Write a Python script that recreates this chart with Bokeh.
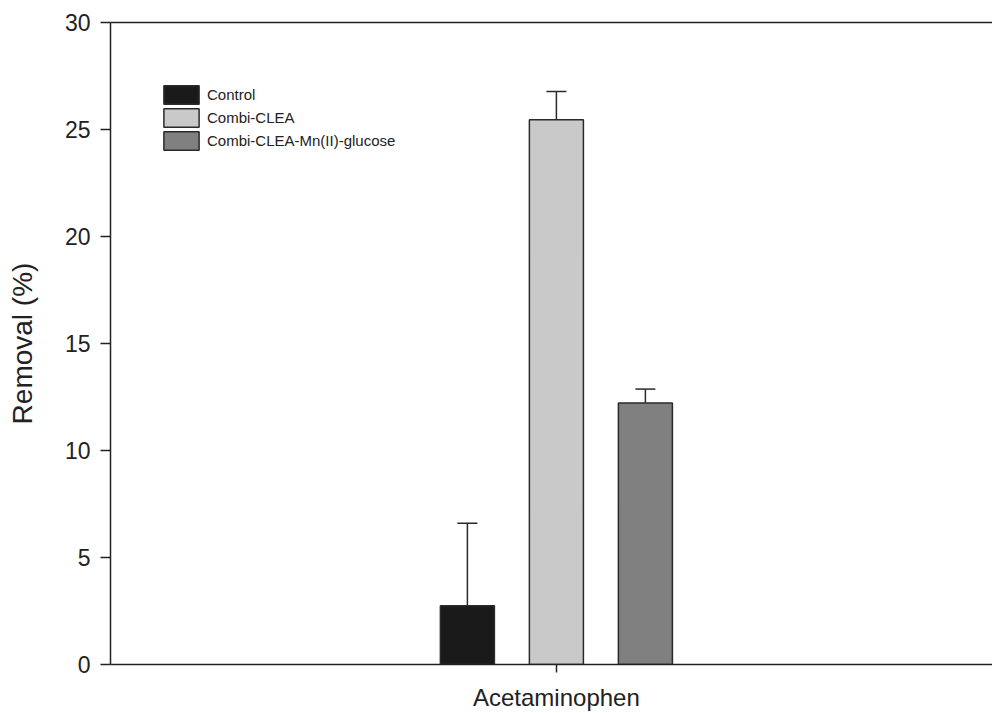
from bokeh.plotting import figure
from bokeh.models import (Range1d, FixedTicker, LinearAxis, Legend, LegendItem,
                          Whisker, TeeHead, ColumnDataSource)
from bokeh.embed import file_html
from bokeh.resources import INLINE

# ---- data ----
category = "Acetaminophen"
series = ["Control", "Combi-CLEA", "Combi-CLEA-Mn(II)-glucose"]
values = [2.75, 25.45, 12.22]
errors = [3.85, 1.33, 0.65]
colors = ["#1a1a1a", "#c9c9c9", "#808080"]
y_ticks = [0, 5, 10, 15, 20, 25, 30]

FONT = "Liberation Sans"
INK = "#222222"

offsets = [i - (len(series) - 1) / 2 for i in range(len(series))]

p = figure(width=992, height=713, output_backend="svg", toolbar_location=None,
           x_range=Range1d(-5.01, 4.90), y_range=Range1d(0, 30),
           min_border_left=110, min_border_top=22, min_border_bottom=48,
           min_border_right=0)
p.outline_line_color = None
p.xgrid.visible = False
p.ygrid.visible = False

src = ColumnDataSource(dict(x=offsets, top=values,
                            upper=[v + e for v, e in zip(values, errors)]))

items = []
for i, name in enumerate(series):
    r = p.vbar(x=[offsets[i]], top=[values[i]], bottom=0, width=0.607,
               fill_color=colors[i], line_color="#2a2a2a", line_width=1.5)
    items.append(LegendItem(label=name, renderers=[r]))

wh = Whisker(source=src, base="x", lower="top", upper="upper", dimension="height",
             line_color="#2a2a2a", line_width=1.5,
             upper_head=TeeHead(size=20, line_color="#2a2a2a", line_width=1.5),
             lower_head=None)
p.add_layout(wh)

# x axis
xa = p.xaxis[0]
xa.ticker = FixedTicker(ticks=[0])
xa.major_label_overrides = {0: category}
xa.minor_tick_line_color = None
xa.major_tick_in = 0
xa.major_tick_out = 8
xa.major_label_standoff = 11
xa.major_label_text_font = FONT
xa.major_label_text_font_size = "24px"
xa.major_label_text_color = INK
xa.axis_line_width = 1.5
xa.axis_line_color = INK
xa.major_tick_line_color = INK
xa.major_tick_line_width = 1.5

# y axis
ya = p.yaxis[0]
ya.ticker = FixedTicker(ticks=y_ticks)
ya.minor_tick_line_color = None
ya.major_tick_in = 0
ya.major_tick_out = 10
ya.major_label_standoff = 10
ya.major_label_text_font = FONT
ya.major_label_text_font_size = "23px"
ya.major_label_text_color = INK
ya.axis_label = "Removal (%)"
ya.axis_label_text_font = FONT
ya.axis_label_text_font_size = "28px"
ya.axis_label_text_font_style = "normal"
ya.axis_label_text_color = INK
ya.axis_label_standoff = 24
ya.axis_line_width = 1.5
ya.axis_line_color = INK
ya.major_tick_line_color = INK
ya.major_tick_line_width = 1.5

# top border line
top = LinearAxis(ticker=FixedTicker(ticks=[]), major_tick_line_color=None,
                 minor_tick_line_color=None, major_label_text_font_size="0px",
                 axis_line_width=1.5, axis_line_color=INK)
p.add_layout(top, "above")

legend = Legend(items=items, location=(49, 512),
                background_fill_alpha=0, border_line_color=None,
                glyph_width=44, glyph_height=23, label_height=23,
                spacing=0, padding=0, margin=0, label_standoff=4,
                label_text_font=FONT, label_text_font_size="15px",
                label_text_color=INK)
p.add_layout(legend)

open("out.html", "w").write(file_html(p, INLINE))
